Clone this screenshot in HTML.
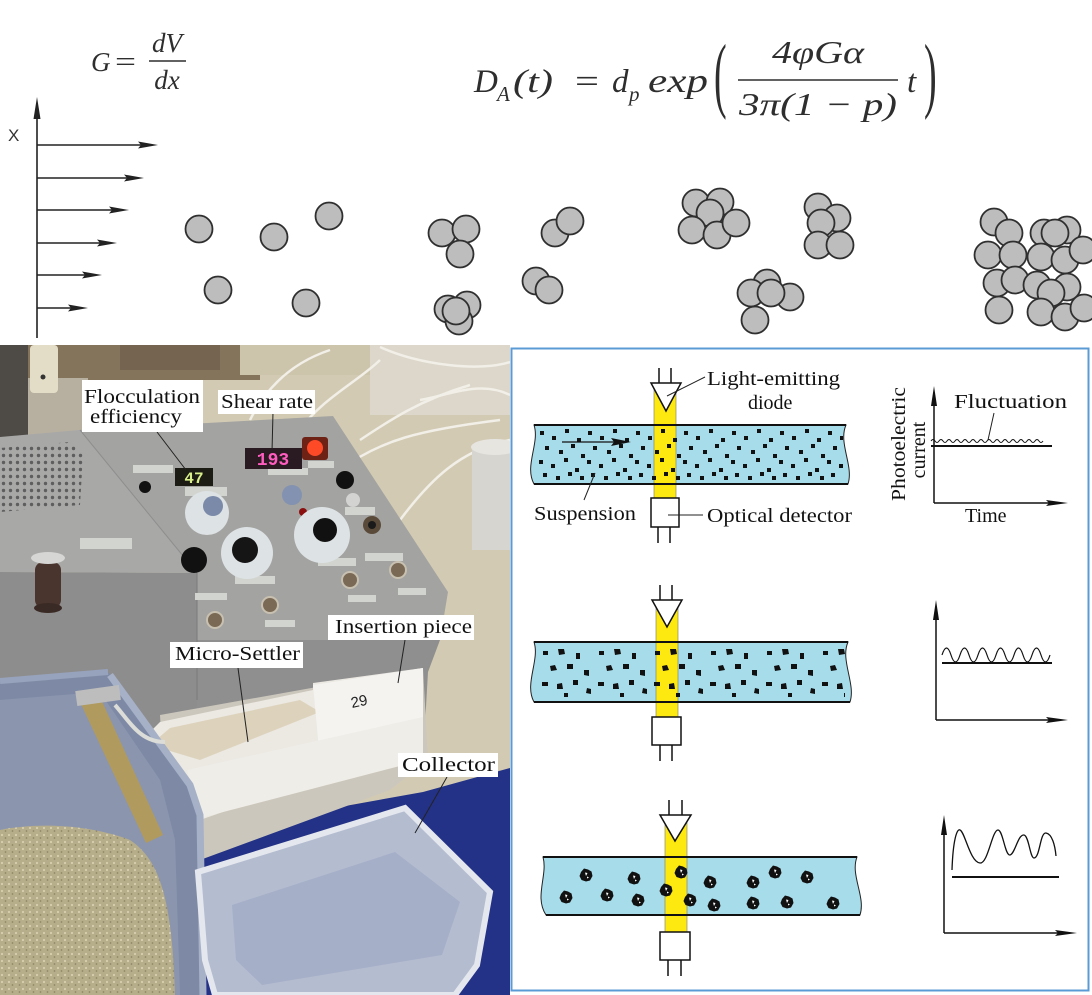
<!DOCTYPE html>
<html><head><meta charset="utf-8"><style>
html,body{margin:0;padding:0;background:#fff;}
svg{display:block;}
</style></head><body>
<svg width="1092" height="995" viewBox="0 0 1092 995" xmlns="http://www.w3.org/2000/svg">
<defs>
  <clipPath id="photoClip"><rect x="0" y="345" width="510" height="650"/></clipPath>
  <pattern id="p1" patternUnits="userSpaceOnUse" x="537" y="425" width="48" height="59">
    <g fill="#111">
      <rect x="3" y="6" width="4" height="4"/><rect x="15" y="11" width="4" height="4"/>
      <rect x="28" y="4" width="4" height="4"/><rect x="40" y="13" width="4" height="4"/>
      <rect x="8" y="21" width="4" height="4"/><rect x="22" y="25" width="4" height="4"/>
      <rect x="34" y="19" width="4" height="4"/><rect x="44" y="29" width="4" height="4"/>
      <rect x="2" y="35" width="4" height="4"/><rect x="14" y="39" width="4" height="4"/>
      <rect x="27" y="33" width="4" height="4"/><rect x="38" y="43" width="4" height="4"/>
      <rect x="6" y="48" width="4" height="4"/><rect x="19" y="51" width="4" height="4"/>
      <rect x="31" y="47" width="4" height="4"/><rect x="43" y="51" width="4" height="4"/>
    </g>
  </pattern>
  <pattern id="p2" patternUnits="userSpaceOnUse" x="538" y="642" width="56" height="60">
    <g fill="#111">
      <rect x="5" y="9" width="5" height="4"/>
      <path d="M20,7 l6,0 l1,5 l-6,1z"/>
      <rect x="38" y="11" width="4" height="6"/>
      <path d="M12,24 l5,-1 l2,5 l-6,1z"/>
      <rect x="29" y="22" width="6" height="5"/>
      <path d="M46,28 l5,0 l0,6 l-5,-1z"/>
      <rect x="4" y="40" width="6" height="4"/>
      <path d="M19,42 l5,-1 l1,6 l-6,0z"/>
      <rect x="35" y="38" width="5" height="5"/>
      <path d="M49,46 l4,1 l0,5 l-5,-1z"/>
      <rect x="26" y="51" width="4" height="4"/>
    </g>
  </pattern>
  <pattern id="grille" patternUnits="userSpaceOnUse" x="0" y="445" width="7" height="7">
    <circle cx="3.5" cy="3.5" r="1.7" fill="#5e5e5e"/>
  </pattern>
  <pattern id="sludge" patternUnits="userSpaceOnUse" width="7" height="7">
    <circle cx="2" cy="2" r="1.1" fill="#d8cfae"/>
    <circle cx="5.5" cy="5" r="0.9" fill="#8f8566"/>
  </pattern>
  <symbol id="floc" viewBox="-7 -7 14 14" width="14" height="14">
    <path d="M-5,-3 L-2,-6.5 L2,-5.5 L5.5,-3.5 L6.5,1 L4,5.5 L0,6.5 L-4.5,5 L-6.5,1 Z" fill="#111"/>
    <path d="M-1,-2.5 L1.5,-2 L0,1 Z" fill="#fff"/>
    <path d="M1,1.5 L3,2.5 L1,3.5 Z" fill="#fff"/>
  </symbol>
</defs>

<!-- ================= TOP SECTION ================= -->
<g font-family="'Liberation Serif', serif" font-style="italic" fill="#2e2e2e">
  <text x="91" y="71" font-size="27">G</text>
  <text x="115" y="71" font-size="28" font-style="normal" textLength="21" lengthAdjust="spacingAndGlyphs">=</text>
  <text x="167" y="52" font-size="27" text-anchor="middle">dV</text>
  <line x1="149" y1="61" x2="186" y2="61" stroke="#2e2e2e" stroke-width="1.5"/>
  <text x="167" y="89" font-size="27" text-anchor="middle">dx</text>

  <text x="474" y="92" font-size="33">D</text>
  <text x="497" y="101" font-size="21">A</text>
  <text x="513" y="92" font-size="33" textLength="40" lengthAdjust="spacingAndGlyphs">(t)</text>
  <text x="575" y="92" font-size="33" font-style="normal" textLength="24" lengthAdjust="spacingAndGlyphs">=</text>
  <text x="612" y="92" font-size="33">d</text>
  <text x="629" y="101" font-size="21">p</text>
  <text x="648" y="92" font-size="34" textLength="60" lengthAdjust="spacingAndGlyphs">exp</text>
  <text transform="translate(714,102) scale(1,2.2)" font-size="38" font-style="normal">(</text>
  <text x="818" y="63" font-size="32" text-anchor="middle" textLength="92" lengthAdjust="spacingAndGlyphs">4φGα</text>
  <line x1="738" y1="80" x2="898" y2="80" stroke="#2e2e2e" stroke-width="1.6"/>
  <text x="818" y="115" font-size="32" text-anchor="middle" textLength="158" lengthAdjust="spacingAndGlyphs">3π(1 − p)</text>
  <text x="907" y="92" font-size="33">t</text>
  <text transform="translate(924,102) scale(1,2.2)" font-size="38" font-style="normal">)</text>
</g>

<!-- velocity profile -->
<g stroke="#222" stroke-width="1.6" fill="#222">
  <line x1="37" y1="110" x2="37" y2="338"/>
  <polygon points="37,97 33.5,119 40.5,119" stroke="none"/>
  <line x1="37" y1="145" x2="142" y2="145"/>
  <polygon points="158,145 138,141.5 141,145 138,148.5" stroke="none"/>
  <line x1="37" y1="178" x2="128" y2="178"/>
  <polygon points="144,178 124,174.5 127,178 124,181.5" stroke="none"/>
  <line x1="37" y1="210" x2="113" y2="210"/>
  <polygon points="129,210 109,206.5 112,210 109,213.5" stroke="none"/>
  <line x1="37" y1="243" x2="101" y2="243"/>
  <polygon points="117,243 97,239.5 100,243 97,246.5" stroke="none"/>
  <line x1="37" y1="275" x2="86" y2="275"/>
  <polygon points="102,275 82,271.5 85,275 82,278.5" stroke="none"/>
  <line x1="37" y1="308" x2="72" y2="308"/>
  <polygon points="88,308 68,304.5 71,308 68,311.5" stroke="none"/>
</g>
<text x="8" y="141" font-family="'Liberation Sans', sans-serif" font-size="17" fill="#333">X</text>

<!-- particles -->
<g fill="#bdbdbd" stroke="#2f2f2f" stroke-width="1.8">
  <circle cx="199" cy="229" r="13.5"/><circle cx="274" cy="237" r="13.5"/>
  <circle cx="329" cy="216" r="13.5"/><circle cx="218" cy="290" r="13.5"/>
  <circle cx="306" cy="303" r="13.5"/>

  <circle cx="442" cy="233" r="13.5"/><circle cx="466" cy="229" r="13.5"/>
  <circle cx="460" cy="254" r="13.5"/>
  <circle cx="448" cy="309" r="13.5"/><circle cx="467" cy="305" r="13.5"/>
  <circle cx="459" cy="321" r="13.5"/><circle cx="456" cy="311" r="13.5"/>

  <circle cx="555" cy="233" r="13.5"/><circle cx="570" cy="221" r="13.5"/>
  <circle cx="536" cy="281" r="13.5"/><circle cx="549" cy="290" r="13.5"/>

  <circle cx="696" cy="203" r="13.5"/><circle cx="720" cy="202" r="13.5"/>
  <circle cx="710" cy="213" r="13.5"/><circle cx="692" cy="230" r="13.5"/>
  <circle cx="717" cy="235" r="13.5"/><circle cx="736" cy="223" r="13.5"/>

  <circle cx="818" cy="207" r="13.5"/><circle cx="837" cy="218" r="13.5"/>
  <circle cx="821" cy="223" r="13.5"/><circle cx="818" cy="245" r="13.5"/>
  <circle cx="840" cy="245" r="13.5"/>

  <circle cx="767" cy="283" r="13.5"/><circle cx="751" cy="293" r="13.5"/>
  <circle cx="790" cy="297" r="13.5"/><circle cx="771" cy="293" r="13.5"/>
  <circle cx="755" cy="320" r="13.5"/>

  <circle cx="994" cy="222" r="13.5"/><circle cx="1009" cy="233" r="13.5"/>
  <circle cx="988" cy="255" r="13.5"/><circle cx="1013" cy="255" r="13.5"/>
  <circle cx="997" cy="283" r="13.5"/><circle cx="1015" cy="280" r="13.5"/>
  <circle cx="999" cy="310" r="13.5"/><circle cx="1044" cy="233" r="13.5"/>
  <circle cx="1067" cy="230" r="13.5"/><circle cx="1055" cy="233" r="13.5"/>
  <circle cx="1041" cy="257" r="13.5"/><circle cx="1065" cy="260" r="13.5"/>
  <circle cx="1083" cy="250" r="13.5"/><circle cx="1037" cy="285" r="13.5"/>
  <circle cx="1067" cy="287" r="13.5"/><circle cx="1051" cy="293" r="13.5"/>
  <circle cx="1041" cy="312" r="13.5"/><circle cx="1065" cy="317" r="13.5"/>
  <circle cx="1084" cy="308" r="13.5"/>
</g>

<!-- ================= PHOTO ================= -->
<g clip-path="url(#photoClip)">
  <rect x="0" y="345" width="510" height="650" fill="#d2cab3"/>
  <rect x="0" y="345" width="260" height="35" fill="#85745c"/>
  <rect x="120" y="345" width="100" height="25" fill="#746450"/>
  <rect x="240" y="345" width="270" height="30" fill="#cdc4ac"/>
  <rect x="370" y="345" width="140" height="70" fill="#dcd7ca"/>
  <rect x="28" y="378" width="60" height="60" fill="#b7b0a0"/>
  <rect x="0" y="345" width="28" height="100" fill="#4e4b47"/>
  <rect x="30" y="345" width="28" height="48" rx="4" fill="#e3dcc6"/>
  <circle cx="43" cy="377" r="2.5" fill="#333"/>
  <g fill="none" stroke="#f1efe7" stroke-width="2.5">
    <path d="M250,420 C270,380 300,360 330,350"/>
    <path d="M300,430 C320,400 360,380 380,360"/>
    <path d="M360,440 C390,420 420,400 470,385"/>
    <path d="M340,470 C380,440 420,430 500,420"/>
    <path d="M400,520 C430,480 460,450 510,440"/>
    <path d="M380,347 C420,365 480,372 510,362"/>
    <path d="M420,400 C450,395 480,380 510,395"/>
  </g>
  <!-- cylinder -->
  <rect x="472" y="447" width="42" height="103" fill="#d6d5cf"/>
  <ellipse cx="495" cy="447" rx="24" ry="8" fill="#e6e5e0"/>

  <!-- blue cloth (behind) -->
  <polygon points="200,832 423,792 510,768 510,995 200,995" fill="#233286"/>

  <!-- device -->
  <polygon points="0,437 80,430 197,573 0,572" fill="#a8a8a7"/>
  <polygon points="0,572 197,573 197,790 0,770" fill="#8d8d8d"/>
  <polygon points="80,430 333,416 448,592 440,640 197,640 197,573" fill="#a3a3a1"/>
  <polygon points="197,640 440,640 428,672 423,760 197,790" fill="#8f8f8f"/>
  <line x1="80" y1="430" x2="197" y2="573" stroke="#8e8e8e" stroke-width="1"/>
  <line x1="197" y1="573" x2="197" y2="700" stroke="#7a7a7a" stroke-width="1"/>
  <polygon points="0,448 70,442 83,455 80,505 0,512" fill="url(#grille)"/>

  <!-- handle -->
  <rect x="35" y="562" width="26" height="46" rx="8" fill="#4a342e"/>
  <ellipse cx="48" cy="608" rx="14" ry="5" fill="#3a2a25"/>
  <ellipse cx="48" cy="558" rx="17" ry="6" fill="#d6d6d4"/>

  <!-- stickers -->
  <g fill="#d2d5cf">
    <rect x="80" y="538" width="52" height="11"/>
    <rect x="133" y="465" width="40" height="8"/>
    <rect x="185" y="487" width="42" height="9"/>
    <rect x="268" y="468" width="40" height="7"/>
    <rect x="308" y="461" width="26" height="7"/>
    <rect x="345" y="507" width="30" height="8"/>
    <rect x="318" y="558" width="38" height="8"/>
    <rect x="235" y="576" width="40" height="8"/>
    <rect x="195" y="593" width="32" height="7"/>
    <rect x="365" y="553" width="38" height="8"/>
    <rect x="265" y="620" width="30" height="7"/>
    <rect x="348" y="595" width="28" height="7"/>
    <rect x="398" y="588" width="28" height="7"/>
  </g>

  <!-- displays -->
  <rect x="175" y="468" width="38" height="18" fill="#1c1c14"/>
  <text x="194" y="483" font-family="'Liberation Mono', monospace" font-weight="bold" font-size="16" fill="#d9f08a" text-anchor="middle">47</text>
  <rect x="245" y="448" width="57" height="21" fill="#2a1a22"/>
  <text x="273" y="465" font-family="'Liberation Mono', monospace" font-weight="bold" font-size="18" fill="#ff5cbf" text-anchor="middle">193</text>
  <rect x="302" y="437" width="26" height="23" rx="3" fill="#6e2215"/>
  <circle cx="315" cy="448" r="8" fill="#ff4a28"/>

  <!-- knobs -->
  <circle cx="145" cy="487" r="6" fill="#111"/>
  <circle cx="207" cy="513" r="22" fill="#dde2e4"/>
  <circle cx="213" cy="506" r="10" fill="#7a8aa8"/>
  <circle cx="247" cy="553" r="26" fill="#dde2e4"/>
  <circle cx="245" cy="550" r="13" fill="#151515"/>
  <circle cx="194" cy="560" r="13" fill="#111"/>
  <circle cx="292" cy="495" r="10" fill="#8292b0"/>
  <circle cx="345" cy="480" r="9" fill="#111"/>
  <circle cx="353" cy="500" r="7" fill="#d3d3d1"/>
  <circle cx="303" cy="512" r="4" fill="#8a1010"/>
  <circle cx="322" cy="535" r="28" fill="#dde2e4"/>
  <circle cx="325" cy="530" r="12" fill="#111"/>
  <circle cx="372" cy="525" r="9" fill="#5a4a3a"/>
  <circle cx="372" cy="525" r="4" fill="#1a1a1a"/>
  <g fill="#7a6a55" stroke="#c8c0b0" stroke-width="2">
    <circle cx="215" cy="620" r="8"/>
    <circle cx="270" cy="605" r="8"/>
    <circle cx="350" cy="580" r="8"/>
    <circle cx="398" cy="570" r="8"/>
  </g>

  <!-- containers / settler -->
  <polygon points="160,715 423,668 428,760 390,790 200,860 165,800" fill="#ccc7bc"/>
  <polygon points="137,745 160,722 313,690 313,683 423,668 423,742 200,820 190,800 150,768" fill="#ece9e3"/>
  <polygon points="150,745 170,728 300,700 320,712 200,760" fill="#ddd3bd"/>
  <polygon points="313,685 423,668 423,742 320,760" fill="#f4f3f0"/>
  <polygon points="187,770 423,717 423,760 200,818" fill="#efede8"/>
  <text transform="translate(352,708) rotate(-12)" font-family="'Liberation Sans', sans-serif" font-size="15" fill="#222">29</text>

  <!-- bin -->
  <polygon points="0,682 108,672 125,690 190,780 200,810 203,995 0,995" fill="#7e8aa5"/>
  <polygon points="0,700 100,692 160,780 175,840 180,995 0,995" fill="#8b95ae"/>
  <path d="M0,830 C40,822 90,825 130,840 C160,860 172,900 175,995 L0,995 Z" fill="#b6ad8b"/>
  <path d="M0,830 C40,822 90,825 130,840 C160,860 172,900 175,995 L0,995 Z" fill="url(#sludge)"/>
  <path d="M110,675 L190,785 L200,815 L203,995" fill="none" stroke="#a6b1c8" stroke-width="7"/>
  <path d="M0,681 L108,672" fill="none" stroke="#97a3bd" stroke-width="6"/>
  <!-- tube -->
  <polygon points="80,702 100,697 163,835 146,843" fill="#b09a5e"/>
  <rect x="76" y="688" width="44" height="15" fill="#bdbdbd" transform="rotate(-8 98 695)"/>
  <path d="M115,705 C130,722 140,742 165,742" fill="none" stroke="#dcdcd8" stroke-width="4"/>

  <!-- collector -->
  <polygon points="198,872 405,808 490,892 477,965 455,995 215,995 205,960" fill="#b4bcd0" stroke="#e4e7ee" stroke-width="6"/>
  <polygon points="232,905 395,852 460,902 442,955 262,985 236,960" fill="#a6afc8"/>
</g>

<!-- photo labels -->
<g font-family="'Liberation Serif', serif" fill="#111">
  <line x1="157" y1="432" x2="186" y2="470" stroke="#222" stroke-width="1"/>
  <line x1="273" y1="412" x2="272" y2="452" stroke="#222" stroke-width="1"/>
  <line x1="238" y1="668" x2="248" y2="742" stroke="#222" stroke-width="1"/>
  <line x1="405" y1="640" x2="398" y2="683" stroke="#222" stroke-width="1"/>
  <line x1="447" y1="777" x2="415" y2="833" stroke="#222" stroke-width="1"/>
  <rect x="82" y="380" width="121" height="52" fill="#fff"/>
  <text x="84" y="403" font-size="20" textLength="116" lengthAdjust="spacingAndGlyphs">Flocculation</text>
  <text x="90" y="423" font-size="20" textLength="92" lengthAdjust="spacingAndGlyphs">efficiency</text>
  <rect x="218" y="390" width="97" height="24" fill="#fff"/>
  <text x="221" y="408" font-size="20" textLength="92" lengthAdjust="spacingAndGlyphs">Shear rate</text>
  <rect x="328" y="615" width="146" height="25" fill="#fff"/>
  <text x="335" y="633" font-size="20" textLength="137" lengthAdjust="spacingAndGlyphs">Insertion piece</text>
  <rect x="170" y="642" width="133" height="26" fill="#fff"/>
  <text x="175" y="660" font-size="20" textLength="125" lengthAdjust="spacingAndGlyphs">Micro-Settler</text>
  <rect x="398" y="753" width="100" height="24" fill="#fff"/>
  <text x="402" y="771" font-size="20" textLength="93" lengthAdjust="spacingAndGlyphs">Collector</text>
</g>

<!-- ================= RIGHT DIAGRAM ================= -->
<rect x="511.5" y="348.5" width="577" height="642" fill="#fff" stroke="#5b9bd5" stroke-width="2"/>

<!-- Panel 1 -->
<path d="M534,425 L846,425 C838,443 854,466 848,484 L534,484 C524,466 540,443 534,425 Z" fill="#a7dcea" stroke="#222" stroke-width="1"/>
<rect x="654" y="383" width="22" height="115" fill="#fde910" stroke="#777" stroke-width="0.6"/>
<rect x="537" y="427" width="306" height="55" fill="url(#p1)"/>
<line x1="534" y1="425" x2="846" y2="425" stroke="#111" stroke-width="2"/>
<line x1="534" y1="484" x2="848" y2="484" stroke="#111" stroke-width="2"/>
<line x1="562" y1="442" x2="616" y2="442" stroke="#111" stroke-width="1.2"/>
<polygon points="631,442 611,438 614,442 611,446" fill="#111"/>
<g stroke="#111" stroke-width="1.5">
  <line x1="659" y1="368" x2="659" y2="383"/><line x1="671" y1="368" x2="671" y2="383"/>
  <line x1="658" y1="527" x2="658" y2="543"/><line x1="670" y1="527" x2="670" y2="543"/>
</g>
<polygon points="651,383 681,383 666,411" fill="#fff" stroke="#111" stroke-width="1.5"/>
<rect x="651" y="498" width="28" height="29" fill="#fff" stroke="#111" stroke-width="1.5"/>
<g stroke="#222" stroke-width="1">
  <line x1="705" y1="377" x2="667" y2="396"/>
  <line x1="584" y1="500" x2="595" y2="473"/>
  <line x1="668" y1="515" x2="703" y2="515"/>
  <line x1="994" y1="413" x2="988" y2="440"/>
</g>
<g font-family="'Liberation Serif', serif" fill="#111" font-size="20">
  <text x="707" y="385" textLength="133" lengthAdjust="spacingAndGlyphs">Light-emitting</text>
  <text x="748" y="409">diode</text>
  <text x="534" y="520" textLength="102" lengthAdjust="spacingAndGlyphs">Suspension</text>
  <text x="707" y="522" textLength="145" lengthAdjust="spacingAndGlyphs">Optical detector</text>
  <text x="954" y="408" textLength="113" lengthAdjust="spacingAndGlyphs">Fluctuation</text>
  <text x="965" y="522">Time</text>
  <text transform="translate(905,444) rotate(-90)" text-anchor="middle" textLength="114" lengthAdjust="spacingAndGlyphs">Photoelectric</text>
  <text transform="translate(925,450) rotate(-90)" text-anchor="middle">current</text>
</g>
<!-- Graph 1 -->
<g stroke="#111" stroke-width="1.5" fill="none">
  <line x1="934" y1="400" x2="934" y2="503"/>
  <line x1="934" y1="503" x2="1050" y2="503"/>
  <line x1="931" y1="446" x2="1052" y2="446" stroke-width="2"/>
  <path d="M931,441 q2,-3 4,0 t4,0 t4,0 t4,0 t4,0 t4,0 t4,0 t4,0 t4,0 t4,0 t4,0 t4,0 t4,0 t4,0 t4,0 t4,0 t4,0 t4,0 t4,0 t4,0 t4,0 t4,0 t4,0 t4,0 t4,0 t4,0 t4,0 t4,0" stroke-width="1"/>
</g>
<polygon points="934,386 931,406 937,406" fill="#111"/>
<polygon points="1068,503 1046,500 1049,503 1046,506" fill="#111"/>

<!-- Panel 2 -->
<path d="M534,642 L848,642 C840,660 856,684 850,702 L534,702 C524,684 540,660 534,642 Z" fill="#a7dcea" stroke="#222" stroke-width="1"/>
<rect x="656" y="600" width="22" height="117" fill="#fde910" stroke="#777" stroke-width="0.6"/>
<rect x="537" y="644" width="308" height="56" fill="url(#p2)"/>
<line x1="534" y1="642" x2="848" y2="642" stroke="#111" stroke-width="2"/>
<line x1="534" y1="702" x2="850" y2="702" stroke="#111" stroke-width="2"/>
<g stroke="#111" stroke-width="1.5">
  <line x1="660" y1="585" x2="660" y2="600"/><line x1="672" y1="585" x2="672" y2="600"/>
  <line x1="660" y1="745" x2="660" y2="761"/><line x1="672" y1="745" x2="672" y2="761"/>
</g>
<polygon points="652,600 682,600 667,627" fill="#fff" stroke="#111" stroke-width="1.5"/>
<rect x="652" y="717" width="29" height="28" fill="#fff" stroke="#111" stroke-width="1.5"/>
<g stroke="#111" stroke-width="1.5" fill="none">
  <line x1="936" y1="614" x2="936" y2="720"/>
  <line x1="936" y1="720" x2="1050" y2="720"/>
  <line x1="942" y1="663" x2="1052" y2="663" stroke-width="2"/>
  <path d="M942,655 q4.5,-14 9,0 t9,0 t9,0 t9,0 t9,0 t9,0 t9,0 t9,0 t9,0 t9,0 t9,0 t9,0" stroke-width="1.2"/>
</g>
<polygon points="936,600 933,620 939,620" fill="#111"/>
<polygon points="1068,720 1046,717 1049,720 1046,723" fill="#111"/>

<!-- Panel 3 -->
<path d="M543,857 L857,857 C850,875 866,897 860,915 L546,915 C534,897 548,875 543,857 Z" fill="#a7dcea" stroke="#222" stroke-width="1"/>
<rect x="665" y="815" width="22" height="117" fill="#fde910" stroke="#777" stroke-width="0.6"/>
<line x1="543" y1="857" x2="857" y2="857" stroke="#111" stroke-width="2"/>
<line x1="546" y1="915" x2="860" y2="915" stroke="#111" stroke-width="2"/>
<g>
  <use href="#floc" x="579" y="868"/><use href="#floc" x="559" y="890"/>
  <use href="#floc" x="600" y="888"/><use href="#floc" x="627" y="871"/>
  <use href="#floc" x="631" y="893"/><use href="#floc" x="659" y="883"/>
  <use href="#floc" x="674" y="865"/><use href="#floc" x="683" y="893"/>
  <use href="#floc" x="703" y="875"/><use href="#floc" x="707" y="898"/>
  <use href="#floc" x="746" y="875"/><use href="#floc" x="768" y="865"/>
  <use href="#floc" x="746" y="896"/><use href="#floc" x="780" y="895"/>
  <use href="#floc" x="800" y="870"/><use href="#floc" x="826" y="896"/>
</g>
<g stroke="#111" stroke-width="1.5">
  <line x1="669" y1="800" x2="669" y2="815"/><line x1="682" y1="800" x2="682" y2="815"/>
  <line x1="668" y1="960" x2="668" y2="976"/><line x1="681" y1="960" x2="681" y2="976"/>
</g>
<polygon points="660,815 691,815 675,841" fill="#fff" stroke="#111" stroke-width="1.5"/>
<rect x="660" y="932" width="30" height="28" fill="#fff" stroke="#111" stroke-width="1.5"/>
<g stroke="#111" stroke-width="1.5" fill="none">
  <line x1="944" y1="830" x2="944" y2="933"/>
  <line x1="944" y1="933" x2="1058" y2="933"/>
  <line x1="952" y1="877" x2="1059" y2="877" stroke-width="2"/>
  <path d="M952,870 C953,840 957,828 960,830 C965,832 970,862 980,863 C988,864 992,830 998,830 C1003,830 1005,856 1010,855 C1015,854 1018,834 1024,835 C1029,836 1030,858 1034,858 C1040,858 1040,832 1046,833 C1052,834 1055,845 1056,856" stroke-width="1.3"/>
</g>
<polygon points="944,815 941,835 947,835" fill="#111"/>
<polygon points="1077,933 1055,930 1058,933 1055,936" fill="#111"/>
</svg>
</body></html>
